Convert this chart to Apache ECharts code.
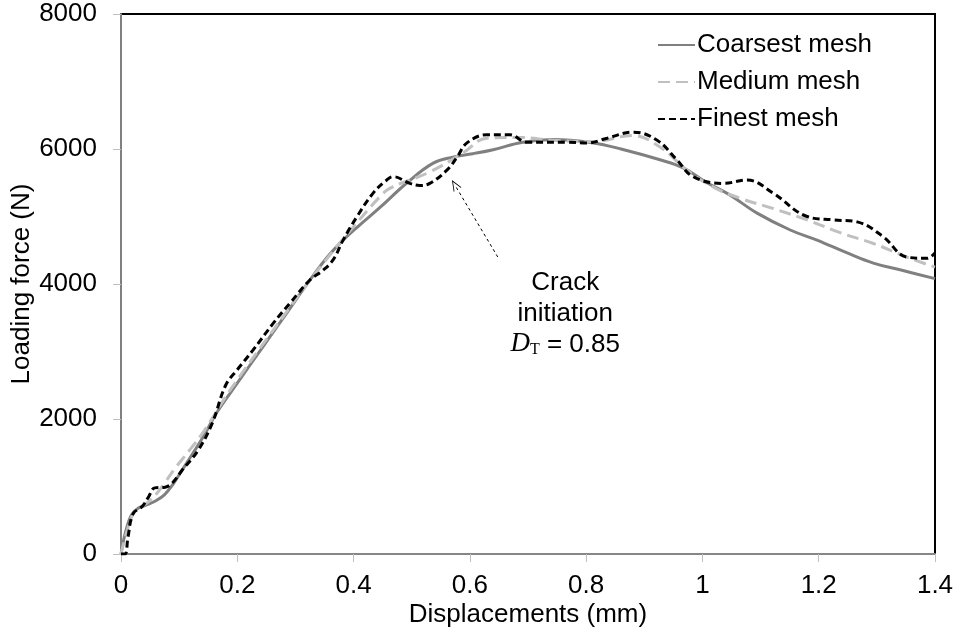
<!DOCTYPE html>
<html>
<head>
<meta charset="utf-8">
<script src="https://cdn.jsdelivr.net/npm/echarts@6/dist/echarts.min.js"></script>
<style>html,body{margin:0;padding:0;background:#fff}#c{width:958px;height:637px}</style>
</head>
<body>
<div id="c"></div>
<script>
const seriesNames = ['Coarsest mesh', 'Medium mesh', 'Finest mesh'];
const coarseX = [0,0.008,0.018,0.03,0.045,0.06,0.075,0.09,0.105,0.125,0.145,0.165,0.2,0.244,0.285,0.325,0.355,0.382,0.41,0.445,0.492,0.537,0.571,0.605,0.64,0.691,0.743,0.812,0.86,0.927,0.967,1.008,1.047,1.094,1.151,1.197,1.249,1.294,1.34,1.4];
const coarseY = [0,330,580,680,730,790,880,1040,1240,1510,1790,2100,2530,3070,3570,4060,4400,4650,4870,5130,5500,5790,5880,5930,5990,6100,6140,6090,6000,5840,5720,5500,5320,5050,4800,4650,4460,4310,4210,4080];
const mediumX = [0,0.01,0.02,0.03,0.045,0.06,0.075,0.093,0.12,0.145,0.18,0.2,0.24,0.28,0.308,0.35,0.4,0.445,0.463,0.531,0.588,0.629,0.686,0.743,0.812,0.88,0.927,0.973,1.018,1.065,1.121,1.18,1.237,1.294,1.351,1.4];
const mediumY = [0,330,580,680,760,880,1050,1270,1560,1850,2330,2580,3060,3530,3860,4330,4850,5290,5420,5660,5940,6160,6170,6130,6110,6200,6030,5690,5440,5270,5120,4950,4760,4600,4400,4250];
const fineX = [0,0.007,0.012,0.021,0.036,0.047,0.058,0.076,0.088,0.105,0.133,0.157,0.18,0.2,0.227,0.262,0.291,0.325,0.347,0.365,0.382,0.406,0.434,0.457,0.468,0.497,0.514,0.531,0.561,0.578,0.595,0.629,0.669,0.698,0.767,0.802,0.836,0.881,0.922,0.956,0.984,1.035,1.077,1.121,1.18,1.225,1.266,1.311,1.351,1.386,1.4];
const fineY = [0,0,250,600,700,840,980,990,1050,1240,1540,1940,2500,2730,3020,3420,3720,4060,4200,4360,4650,5000,5350,5540,5590,5490,5460,5490,5690,5880,6090,6210,6210,6100,6100,6090,6160,6250,6130,5840,5590,5490,5540,5350,5000,4950,4920,4700,4400,4380,4460];
const arrowTail = [0.648, 4400];
const arrowHead = [0.574, 5470];
const noteAnchor = [0.764, 3600];
const noteLines = ['Crack', 'initiation'];
const noteSymbol = ['D', 'T', ' = 0.85'];
const xTitle = 'Displacements (mm)';
const yTitle = 'Loading force (N)';

const pairs = (xs, ys) => xs.map((x, i) => [x, ys[i]]);
const FONT = 'Liberation Sans, Arial, sans-serif';
const FS = 26;

const chart = echarts.init(document.getElementById('c'), null, {renderer: 'canvas'});
const option = {
  animation: false,
  backgroundColor: '#fff',
  textStyle: {fontFamily: FONT, color: '#000'},
  grid: {left: 121, right: 23, top: 14, bottom: 83, show: true, borderColor: '#000', borderWidth: 2, backgroundColor: 'transparent', containLabel: false, outerBoundsMode: 'none'},
  legend: {
    orient: 'vertical', left: 652, top: 27, itemWidth: 37, itemHeight: 12, itemGap: 11,
    itemStyle: {color: 'transparent', borderWidth: 0, opacity: 0},
    textStyle: {fontFamily: FONT, fontSize: FS, color: '#000', padding: [0, 0, 0, -3]},
    data: seriesNames
  },
  xAxis: {
    type: 'value', min: 0, max: 1.4, interval: 0.2,
    name: xTitle, nameLocation: 'middle', nameGap: 48, nameMoveOverlap: false,
    nameTextStyle: {fontFamily: FONT, fontSize: FS, color: '#000'},
    axisLine: {lineStyle: {color: '#868686', width: 2}},
    axisTick: {show: true, length: 8, lineStyle: {color: '#bfbfbf', width: 1}},
    axisLabel: {fontFamily: FONT, fontSize: FS, color: '#000', margin: 19},
    splitLine: {show: false}
  },
  yAxis: {
    type: 'value', min: 0, max: 8000, interval: 2000,
    name: yTitle, nameLocation: 'middle', nameGap: 86, nameMoveOverlap: false,
    nameTextStyle: {fontFamily: FONT, fontSize: FS, color: '#000'},
    axisLine: {show: true, lineStyle: {color: '#808080', width: 2}},
    axisTick: {show: true, length: 8, lineStyle: {color: '#bfbfbf', width: 1}},
    axisLabel: {fontFamily: FONT, fontSize: FS, color: '#000', margin: 24, formatter: v => String(v)},
    splitLine: {show: false}
  },
  series: [
    {
      name: seriesNames[0], type: 'line', data: pairs(coarseX, coarseY),
      symbol: 'none', smooth: 0.4,
      lineStyle: {color: '#808080', width: 3, type: 'solid'},
      itemStyle: {color: '#808080'},
      z: 2,
      markLine: {
        silent: true, animation: false,
        symbol: ['none', 'path://M5,0 L10,12 L9,12 L5,2.4 L1,12 L0,12 Z'],
        symbolSize: [9, 11],
        label: {show: false},
        lineStyle: {color: '#000', width: 1, type: [3, 3]},
        data: [[{coord: arrowTail}, {coord: arrowHead}]]
      }
    },
    {
      name: seriesNames[1], type: 'line', data: pairs(mediumX, mediumY),
      symbol: 'none', smooth: 0.4,
      lineStyle: {color: '#c0c0c0', width: 3, type: [12, 6]},
      itemStyle: {color: '#c0c0c0'},
      z: 3
    },
    {
      name: seriesNames[2], type: 'line', data: pairs(fineX, fineY),
      symbol: 'none', smooth: 0.4,
      lineStyle: {color: '#000', width: 3, type: [7, 4]},
      itemStyle: {color: '#000'},
      z: 4
    }
  ]
};
chart.setOption(option);

const p = chart.convertToPixel({gridIndex: 0}, noteAnchor);
chart.setOption({
  graphic: [{
    type: 'text', x: p[0], y: p[1], silent: true,
    style: {
      text: '{a|' + noteLines[0] + '}\n{a|' + noteLines[1] + '}\n{d|' + noteSymbol[0] + '}{t|' + noteSymbol[1] + '}{a|' + noteSymbol[2] + '}',
      align: 'center', verticalAlign: 'middle',
      rich: {
        a: {fontFamily: FONT, fontSize: FS, lineHeight: 31, fill: '#000', verticalAlign: 'bottom'},
        d: {fontFamily: 'Liberation Serif, Times New Roman, serif', fontStyle: 'italic', fontSize: 27, lineHeight: 31, fill: '#000', verticalAlign: 'bottom'},
        t: {fontFamily: 'Liberation Serif, Times New Roman, serif', fontSize: 16, lineHeight: 16, fill: '#000', verticalAlign: 'bottom'}
      }
    }
  }]
});
</script>
</body>
</html>
